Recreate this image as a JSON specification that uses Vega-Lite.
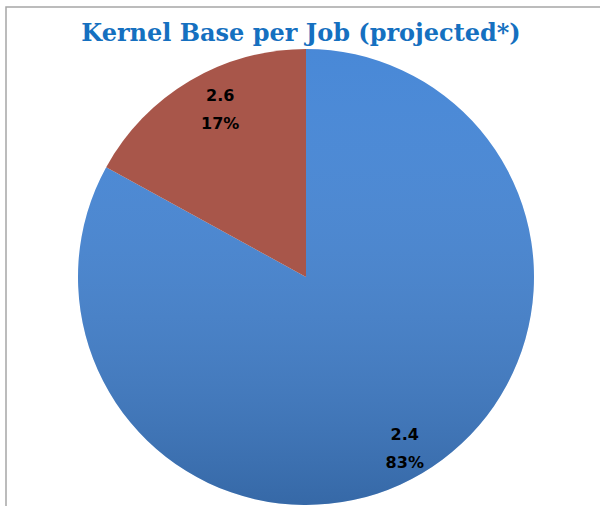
{
  "$schema": "https://vega.github.io/schema/vega-lite/v6.json",
  "width": 600,
  "height": 506,
  "autosize": {"type": "fit", "contains": "padding"},
  "padding": {"left": 6, "top": 7, "right": -6, "bottom": -41},
  "background": "white",
  "view": {"stroke": "#a6a6a6", "strokeWidth": 1.5},
  "config": {"view": {"stroke": "#a6a6a6", "strokeWidth": 1.5}},
  "title": {
    "text": "Kernel Base per Job (projected*)",
    "font": "DejaVu Serif",
    "fontWeight": "bold",
    "fontSize": 24,
    "color": "#1570c0",
    "offset": -39,
    "anchor": "middle",
    "dx": -5
  },
  "data": {
    "values": [
      {"kernel": "2.4", "share": 0.83},
      {"kernel": "2.6", "share": 0.17}
    ]
  },
  "encoding": {
    "theta": {"field": "share", "type": "quantitative", "stack": true},
    "order": {"field": "kernel", "type": "nominal"}
  },
  "layer": [
    {
      "mark": {"type": "arc", "radius": 228},
      "encoding": {
        "color": {
          "field": "kernel",
          "type": "nominal",
          "scale": {"domain": ["2.4", "2.6"], "range": ["#4586d6", "#a8564a"]},
          "legend": null
        }
      }
    },
    {
      "mark": {
        "type": "arc",
        "radius": 228,
        "fill": {
          "gradient": "linear",
          "x1": 0, "y1": 0, "x2": 0, "y2": 1,
          "stops": [
            {"offset": 0, "color": "rgba(255,255,255,0.02)"},
            {"offset": 1, "color": "rgba(0,0,0,0.22)"}
          ]
        }
      },
      "encoding": {
        "opacity": {"condition": {"test": "datum.kernel === '2.4'", "value": 1}, "value": 0}
      }
    },
    {
      "mark": {
        "type": "text",
        "radius": 194,
        "font": "DejaVu Sans",
        "fontWeight": "bold",
        "fontSize": 16,
        "color": "#000000",
        "dy": {"expr": "datum.kernel === '2.6' ? -14 : -9"},
        "dx": {"expr": "datum.kernel === '2.6' ? 13 : 0"}
      },
      "encoding": {"text": {"field": "kernel", "type": "nominal"}}
    },
    {
      "mark": {
        "type": "text",
        "radius": 194,
        "font": "DejaVu Sans",
        "fontWeight": "bold",
        "fontSize": 16,
        "color": "#000000",
        "dy": {"expr": "datum.kernel === '2.6' ? 14 : 19"},
        "dx": {"expr": "datum.kernel === '2.6' ? 13 : 0"}
      },
      "encoding": {"text": {"field": "share", "type": "quantitative", "format": ".0%"}}
    }
  ]
}
